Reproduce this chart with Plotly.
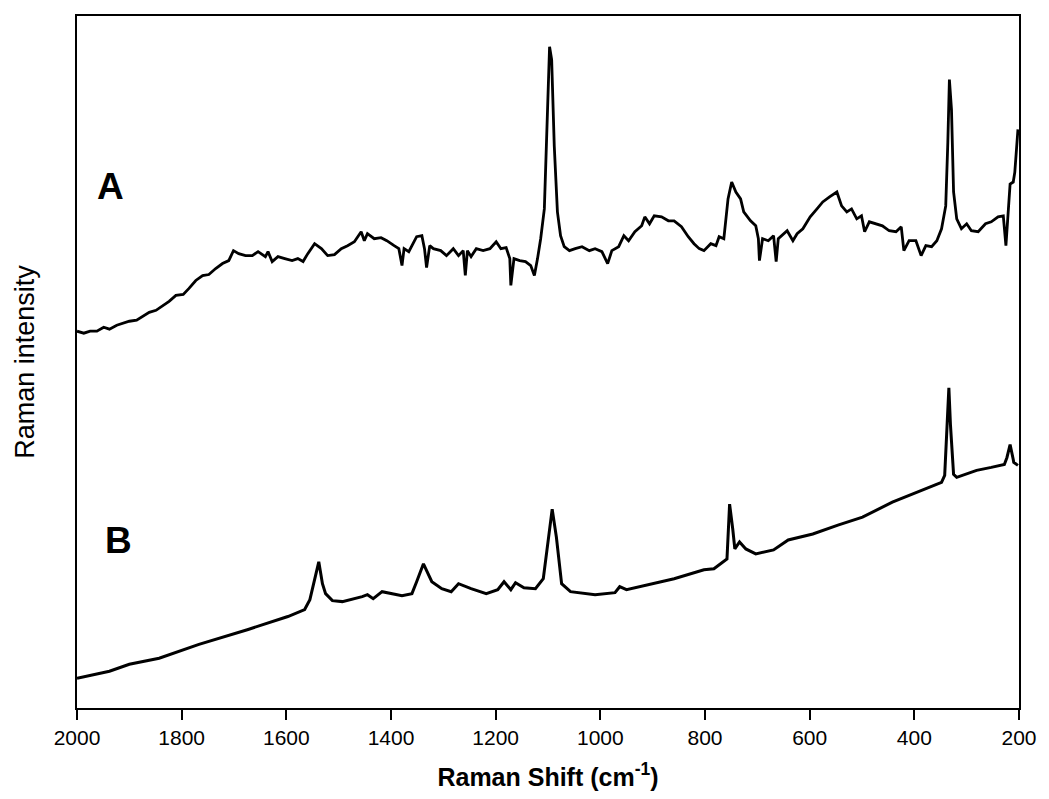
import plotly.graph_objects as go

# Spectrum A: Raman shift (cm-1) and intensity (a.u.)
shift_a = [2000, 1987, 1975, 1962, 1949, 1938, 1924, 1911, 1900, 1886, 1873, 1862, 1849, 1835,
           1824, 1811, 1797, 1786, 1773, 1760, 1748, 1735, 1722, 1710, 1701, 1691, 1678, 1665,
           1654, 1640, 1635, 1627, 1616, 1603, 1589, 1578, 1568, 1559, 1546, 1533, 1521, 1508,
           1495, 1483, 1470, 1457, 1451, 1445, 1432, 1419, 1408, 1394, 1385, 1379, 1375, 1366,
           1360, 1351, 1341, 1336, 1332, 1326, 1319, 1305, 1294, 1281, 1271, 1262, 1258, 1254,
           1247, 1237, 1224, 1211, 1199, 1190, 1180, 1173, 1171, 1165, 1154, 1143, 1133, 1126,
           1120, 1114, 1107, 1103, 1097, 1093, 1088, 1082, 1076, 1069, 1059, 1048, 1035, 1021,
           1010, 997, 986, 978, 965, 955, 946, 934, 921, 915, 906, 897, 883, 870, 859, 845, 832,
           821, 811, 802, 789, 779, 773, 764, 756, 749, 741, 732, 726, 713, 703, 698, 696, 690,
           679, 669, 664, 660, 643, 632, 624, 613, 599, 586, 575, 562, 548, 539, 529, 520, 510,
           501, 495, 486, 473, 461, 448, 435, 425, 420, 410, 397, 387, 378, 367, 357, 348, 340,
           336, 333, 329, 325, 319, 310, 300, 291, 278, 264, 253, 240, 230, 225, 217, 211, 208,
           202]
int_a = [379, 377, 379, 379, 383, 381, 385, 387, 389, 390, 394, 398, 400, 405,
         409, 415, 416, 422, 430, 435, 436, 442, 447, 450, 460, 457, 455, 455,
         459, 454, 459, 449, 454, 452, 450, 452, 449, 457, 467, 462, 455, 456,
         462, 465, 469, 479, 470, 477, 472, 473, 470, 465, 462, 445, 462, 459,
         465, 474, 475, 462, 443, 465, 462, 460, 455, 462, 455, 460, 435, 460,
         454, 462, 460, 462, 469, 462, 463, 452, 425, 452, 450, 449, 445, 435,
         452, 472, 502, 565, 665, 652, 565, 499, 475, 464, 460, 462, 464, 460,
         462, 459, 447, 460, 464, 475, 470, 479, 485, 494, 487, 495, 494, 490, 490, 484, 474,
         467, 462, 460, 467, 465, 474, 472, 512, 529, 519, 512, 499, 490, 485, 472, 450, 472,
         470, 475, 449, 472, 480, 470, 477, 482, 494, 502, 509, 514, 519, 505, 499, 502, 492,
         495, 479, 489, 487, 485, 480, 479, 484, 460, 470, 470, 455, 465, 464, 470, 482, 505,
         569, 632, 602, 519, 492, 482, 487, 480, 479, 487, 489, 494, 495, 465, 527, 529, 539,
         582]

# Spectrum B: Raman shift (cm-1) and intensity (a.u.)
shift_b = [2000, 1938, 1900, 1843, 1767, 1673, 1597, 1565, 1555, 1548, 1538, 1531, 1525, 1512,
           1493, 1455, 1445, 1434, 1417, 1379, 1360, 1351, 1338, 1322, 1303, 1285, 1271, 1247,
           1218, 1196, 1184, 1171, 1162, 1146, 1124, 1109, 1099, 1092, 1084, 1074, 1057, 1010,
           972, 963, 950, 897, 859, 802, 783, 758, 753, 747, 743, 734, 722, 703, 669, 641, 594,
           546, 499, 442, 385, 348, 342, 338, 334, 331, 325, 319, 281, 253, 228, 223, 217, 211,
           210, 202]
int_b = [30, 37, 44, 50, 64, 79, 92, 99, 109, 125, 147, 125, 115, 108,
         107, 112, 114, 110, 117, 113, 115, 127, 145, 127, 120, 117, 125, 120,
         115, 119, 127, 119, 126, 121, 120, 130, 172, 200, 172, 125, 117, 114,
         116, 122, 119, 125, 130, 139, 140, 150, 205, 180, 160, 167, 160, 155, 159, 169, 175,
         184, 192, 207, 219, 227, 234, 280, 322, 285, 235, 232, 239, 242, 245, 252, 265, 250,
         247, 244]

x_ticks = [2000, 1800, 1600, 1400, 1200, 1000, 800, 600, 400, 200]

fig = go.Figure()
fig.add_trace(go.Scatter(x=shift_a, y=int_a, mode="lines", name="A",
                         line=dict(color="black", width=2.8)))
fig.add_trace(go.Scatter(x=shift_b, y=int_b, mode="lines", name="B",
                         line=dict(color="black", width=3)))

label_font = dict(family="Arial, Liberation Sans, sans-serif", size=37, color="black")
fig.add_annotation(x=1936, y=525, text="<b>A</b>", showarrow=False, font=label_font)
fig.add_annotation(x=1920, y=168, text="<b>B</b>", showarrow=False, font=label_font)

fig.update_layout(
    width=1049, height=799,
    margin=dict(l=77, r=21, t=16, b=87),
    paper_bgcolor="white", plot_bgcolor="white",
    showlegend=False,
    font=dict(family="Arial, Liberation Sans, sans-serif", color="black"),
    xaxis=dict(
        range=[2000, 200], tickvals=x_ticks, ticktext=[str(v) for v in x_ticks],
        ticks="outside", ticklen=10, tickwidth=2, tickcolor="black",
        tickfont=dict(size=21), showgrid=False, zeroline=False,
        showline=True, linewidth=2, linecolor="black", mirror=True,
        title=dict(text="<b>Raman Shift (cm<sup>-1</sup>)</b>", font=dict(size=25), standoff=20),
    ),
    yaxis=dict(
        range=[0, 696], showticklabels=False, ticks="", showgrid=False, zeroline=False,
        showline=True, linewidth=2, linecolor="black", mirror=True,
        title=dict(text="Raman intensity", font=dict(size=27), standoff=33),
    ),
)

fig.write_html("out.html")
